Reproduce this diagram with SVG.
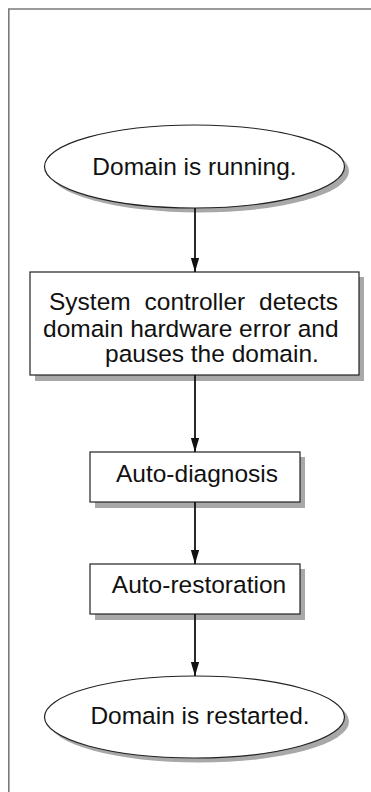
<svg xmlns="http://www.w3.org/2000/svg" width="371" height="792" viewBox="0 0 371 792">
<style>
.frame{fill:none;stroke:#7a7a7a;stroke-width:1.6}
.shadow{fill:#a8a8a8;stroke:none}
.node{fill:#fff;stroke:#222;stroke-width:1.2}
.t{font-family:"Liberation Sans",Arial,Helvetica,sans-serif;font-size:24.5px;fill:#111}
.conn{stroke:#111;stroke-width:1.8;fill:none}
</style>
<defs>
<marker id="ah" markerUnits="userSpaceOnUse" markerWidth="14" markerHeight="24" refX="22" refY="6.5" orient="auto" viewBox="0 0 22 13">
<path d="M0,0 L22,6.5 L0,13 Z" fill="#111"/>
</marker>
</defs>
<rect width="371" height="792" fill="#fff"/>
<path class="frame" d="M8.8,792 V9 H371"/>
<g id="n1">
<ellipse class="shadow" cx="199" cy="171" rx="150" ry="41.5"/>
<ellipse class="node" cx="194.5" cy="166.5" rx="150" ry="41.5"/>
<text class="t" x="194.5" y="175" text-anchor="middle">Domain is running.</text>
</g>
<g id="n2">
<rect class="shadow" x="35" y="277" width="329" height="104"/>
<rect class="node" x="30" y="272" width="329" height="103"/>
<text class="t" y="310"><tspan x="49">System</tspan><tspan x="144.5">controller</tspan><tspan x="259">detects</tspan></text>
<text class="t" x="43" y="336.5">domain hardware error and</text>
<text class="t" x="105" y="362">pauses the domain.</text>
</g>
<g id="n3">
<rect class="shadow" x="95" y="457" width="210" height="51"/>
<rect class="node" x="90" y="452" width="210" height="50"/>
<text class="t" x="197" y="481.5" text-anchor="middle">Auto-diagnosis</text>
</g>
<g id="n4">
<rect class="shadow" x="95" y="569" width="210" height="51"/>
<rect class="node" x="90" y="564" width="210" height="50"/>
<text class="t" x="199" y="593" text-anchor="middle">Auto-restoration</text>
</g>
<g id="n5">
<ellipse class="shadow" cx="199" cy="721.5" rx="150" ry="41"/>
<ellipse class="node" cx="194.5" cy="717" rx="150" ry="41"/>
<text class="t" x="200" y="723.5" text-anchor="middle">Domain is restarted.</text>
</g>
<g id="connectors">
<line class="conn" x1="195" y1="208" x2="195" y2="272" marker-end="url(#ah)"/>
<line class="conn" x1="195" y1="375" x2="195" y2="452" marker-end="url(#ah)"/>
<line class="conn" x1="195" y1="502" x2="195" y2="564" marker-end="url(#ah)"/>
<line class="conn" x1="195" y1="614" x2="195" y2="676" marker-end="url(#ah)"/>
</g>
</svg>
